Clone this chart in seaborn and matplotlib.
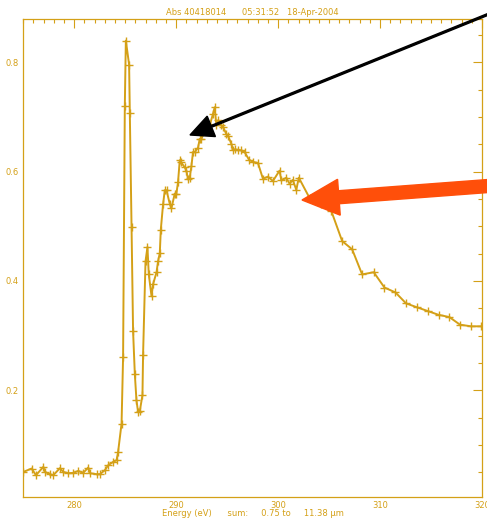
import numpy as np
import pandas as pd
import seaborn as sns
import matplotlib
matplotlib.use("Agg")
import matplotlib.pyplot as plt
from matplotlib.patches import FancyArrow
from matplotlib.ticker import MultipleLocator

# Carbon K-edge absorption spectrum
energy_ev = [
    275.00, 275.82, 276.24, 276.96, 277.13, 277.62, 277.94, 278.59, 278.92, 279.41,
    279.90, 280.39, 280.88, 281.37, 281.53, 282.19, 282.51, 283.00, 283.33, 283.81,
    284.15, 284.30, 284.64, 284.79, 284.96, 285.06, 285.38, 285.45, 285.62, 285.77,
    285.94, 286.10, 286.26, 286.43, 286.69, 286.75, 286.99, 287.18, 287.31, 287.58,
    287.73, 288.07, 288.22, 288.39, 288.49, 288.71, 288.88, 289.05, 289.37, 289.53,
    289.86, 290.02, 290.18, 290.35, 290.45, 290.84, 291.00, 291.16, 291.33, 291.49,
    291.65, 291.82, 292.14, 292.31, 292.47, 293.12, 293.29, 293.61, 293.78, 293.94,
    294.10, 294.43, 294.59, 294.92, 295.08, 295.41, 295.57, 295.73, 296.06, 296.39,
    296.71, 297.14, 297.53, 298.02, 298.51, 299.00, 299.49, 300.14, 300.31, 300.80,
    301.12, 301.44, 301.78, 302.03, 303.08, 304.16, 305.22, 306.28, 307.26, 308.24,
    309.38, 310.43, 311.51, 312.55, 313.59, 314.67, 315.74, 316.79, 317.84, 318.92,
    319.90,
]
absorbance = [
    0.0505, 0.0567, 0.0444, 0.0596, 0.0505, 0.0463, 0.0444, 0.0573, 0.0505, 0.0481,
    0.0487, 0.0523, 0.0487, 0.0585, 0.0481, 0.0463, 0.0463, 0.0536, 0.0627, 0.0688,
    0.0719, 0.0871, 0.139, 0.261, 0.721, 0.840, 0.796, 0.707, 0.498, 0.308,
    0.230, 0.182, 0.160, 0.162, 0.191, 0.265, 0.436, 0.462, 0.412, 0.372,
    0.394, 0.416, 0.436, 0.451, 0.494, 0.540, 0.566, 0.566, 0.541, 0.533,
    0.560, 0.560, 0.581, 0.621, 0.618, 0.608, 0.602, 0.586, 0.589, 0.610,
    0.636, 0.636, 0.644, 0.660, 0.660, 0.688, 0.685, 0.706, 0.718, 0.685,
    0.694, 0.685, 0.682, 0.669, 0.666, 0.651, 0.640, 0.641, 0.640, 0.639,
    0.636, 0.622, 0.618, 0.616, 0.587, 0.591, 0.583, 0.602, 0.584, 0.589,
    0.578, 0.585, 0.567, 0.589, 0.552, 0.540, 0.528, 0.473, 0.458, 0.412,
    0.416, 0.388, 0.379, 0.359, 0.352, 0.345, 0.338, 0.334, 0.320, 0.317,
    0.317,
]

x_major = [280, 290, 300, 310, 320]
y_major = [0.2, 0.4, 0.6, 0.8]

title_text = "Abs 40418014      05:31:52   18-Apr-2004"
xlabel_text = "Energy (eV)      sum:     0.75 to     11.38 \u00b5m"

gold = "#D4A017"

df = pd.DataFrame({"energy": energy_ev, "abs": absorbance})

sns.set_style("white")
plt.rcParams["font.family"] = ["DejaVu Sans"]

fig = plt.figure(figsize=(4.87, 5.19), dpi=100)
ax = fig.add_axes([23.3 / 487, 1 - 497.3 / 519, (482 - 23.3) / 487, (497.3 - 19.3) / 519])

sns.lineplot(data=df, x="energy", y="abs", ax=ax, color=gold, lw=1.4,
             marker="+", markersize=5.5, markeredgewidth=1.0, mec=gold,
             estimator=None, sort=False)

ax.set_xlim(275, 320)
ax.set_ylim(0.004, 0.879)
ax.set_xticks(x_major)
ax.set_yticks(y_major)
ax.set_xticklabels([str(v) for v in x_major])
ax.set_yticklabels([f"{v:.1f}" for v in y_major])
ax.xaxis.set_minor_locator(MultipleLocator(1))
ax.yaxis.set_minor_locator(MultipleLocator(0.05))
ax.tick_params(which="both", direction="in", top=True, right=True,
               color=gold, width=0.8, labelcolor=gold, labelsize=6)
ax.tick_params(which="major", length=6.5)
ax.tick_params(which="minor", length=2.6)
ax.tick_params(axis="x", which="major", pad=2.5)
ax.tick_params(axis="y", which="major", pad=3.5)
for s in ax.spines.values():
    s.set_color(gold)
    s.set_linewidth(0.9)

ax.set_xlabel(xlabel_text, color=gold, fontsize=6, labelpad=-0.5)
ax.set_ylabel("")
ax.set_title(title_text, color=gold, fontsize=6, pad=3)

# Overlay in pixel units for the two pointer arrows
ov = fig.add_axes([0, 0, 1, 1], facecolor="none")
ov.set_xlim(0, 487)
ov.set_ylim(519, 0)
ov.axis("off")

bx0, by0, bx1, by1 = 500, 9.5, 190, 135
ov.add_patch(FancyArrow(bx0, by0, bx1 - bx0, by1 - by0, width=1.8,
                        head_width=22, head_length=23,
                        length_includes_head=True, color="black",
                        clip_on=False))

ox0, oy0, ox1, oy1 = 495, 185.5, 302, 200
ov.add_patch(FancyArrow(ox0, oy0, ox1 - ox0, oy1 - oy0, width=13,
                        head_width=36, head_length=37,
                        length_includes_head=True, color="#FF4F0A",
                        clip_on=False))

fig.savefig("out.png", dpi=100, facecolor="white")
